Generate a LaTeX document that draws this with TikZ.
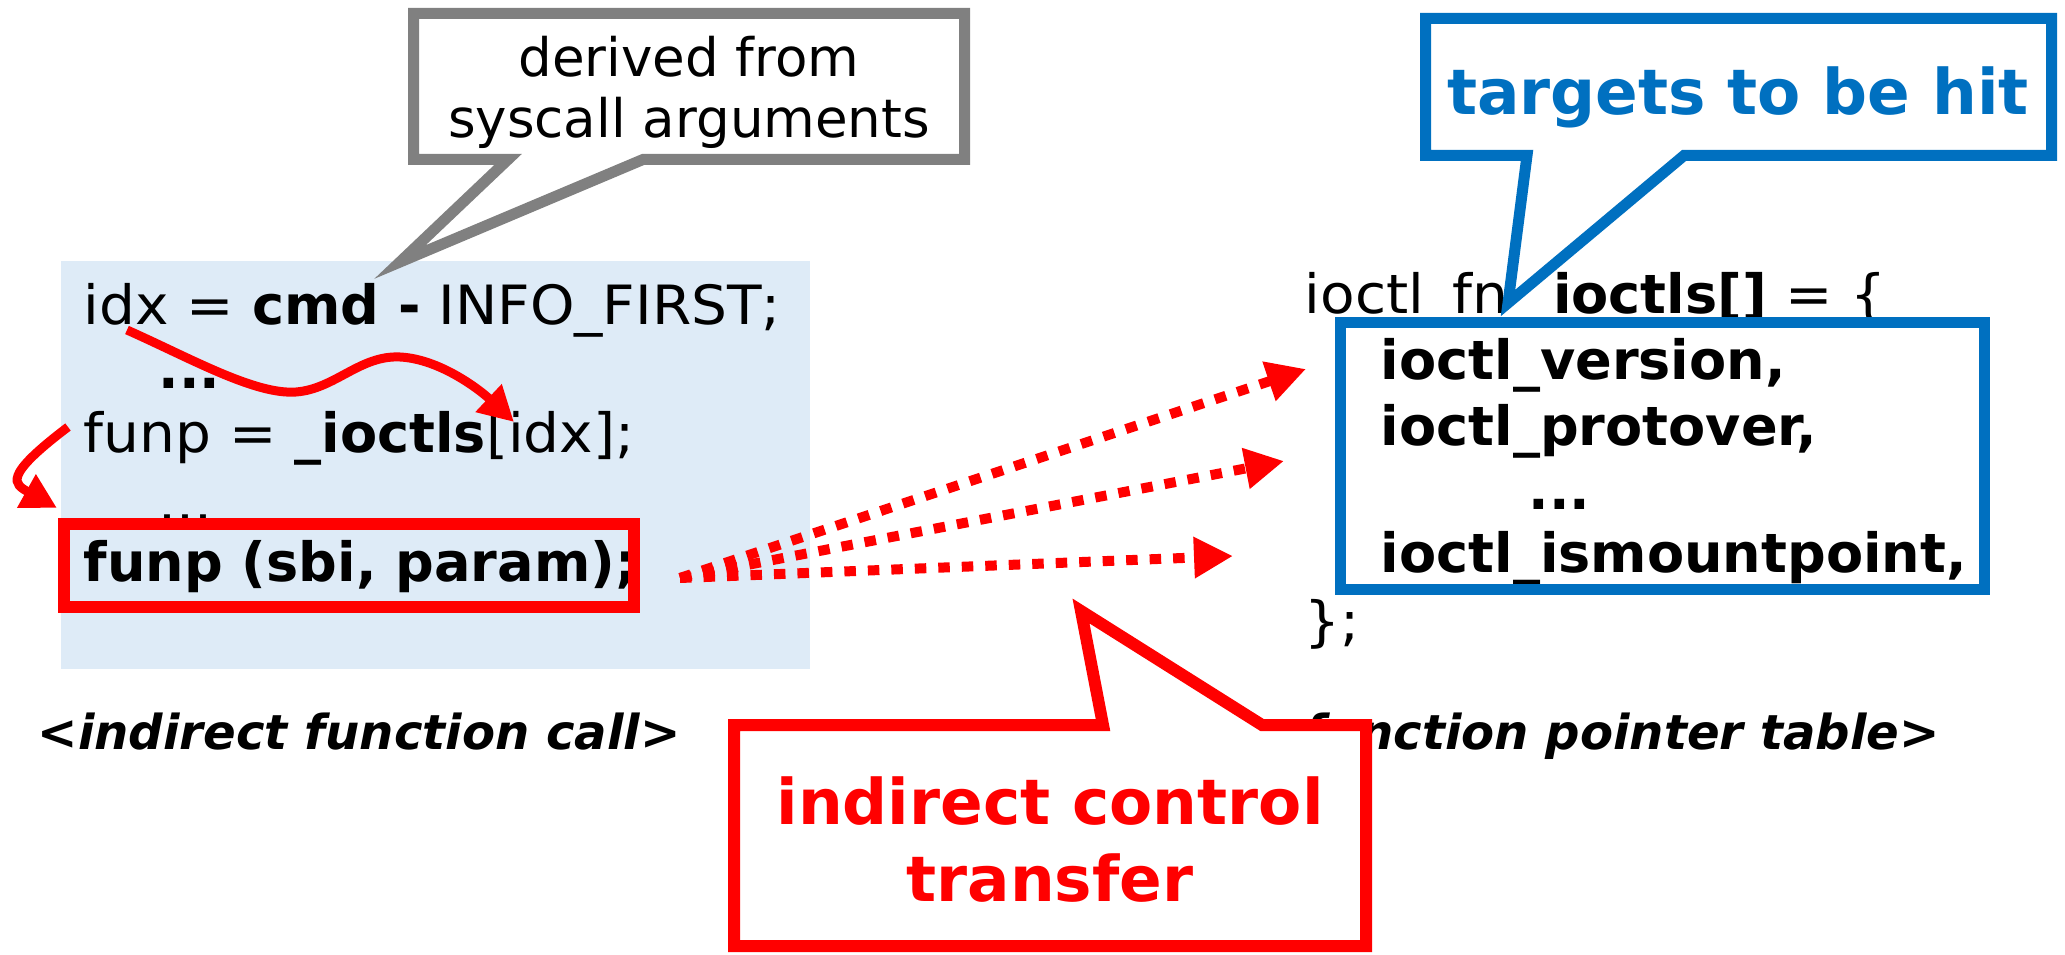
\documentclass[tikz,border=0pt]{standalone}
\usepackage{fontspec}
\setmainfont{DejaVu Sans}[BoldFont={DejaVu Sans Bold},ItalicFont={DejaVu Sans Oblique},BoldItalicFont={DejaVu Sans Bold Oblique}]
\newfontfamily\coderegular{DejaVu Sans}[FakeStretch=1.045]
\usetikzlibrary{arrows.meta}

\definecolor{codebg}{RGB}{222,235,247}
\definecolor{pblue}{RGB}{0,112,192}
\definecolor{pgray}{RGB}{128,128,128}

\newcommand\codesize{\fontsize{15.4pt}{18pt}\selectfont}
\newcommand\notesize{\fontsize{15.1pt}{18pt}\selectfont}
\newcommand\tagsize{\fontsize{13.7pt}{16pt}\selectfont}
\newcommand\callsize{\fontsize{17.9pt}{21pt}\selectfont}
% regular (wider) code text
\newcommand\rg[1]{{\coderegular #1}}

\begin{document}
\begin{tikzpicture}[x=0.1mm,y=-0.1mm,
  codeline/.style={anchor=base west, inner sep=0pt, font=\codesize},
  tagline/.style={anchor=base west, inner sep=0pt, font=\tagsize\bfseries\itshape},
  calltext/.style={anchor=base, inner sep=0pt},
  callout/.style={line width=1.1mm, line join=miter, fill=white},
  flow/.style={red, line width=0.9mm, -{Triangle[length=3.5mm,width=3.6mm]}},
  jump/.style={red, line width=1mm, dash pattern=on 1.15mm off 1.2mm, -{Triangle[length=3.9mm,width=3.9mm]}},
]
\useasboundingbox (0,0) rectangle (2065,955);
\fill[white] (0,0) rectangle (2065,955);

% code of the indirect call
\node[fill=codebg, inner sep=0pt, minimum width=74.9mm, minimum height=40.8mm] (bg) at (435.5,465) {};
\node[codeline] (l1) at (83,325) {\rg{idx = }\textbf{cmd -}\rg{ INFO\_FIRST;}};
\node[codeline] (l2) at (158,389) {\textbf{...}};
\node[codeline] (l3) at (83,453) {\rg{funp = }\textbf{\_ioctls}\rg{[idx];}};
\node[codeline] (l4) at (158,521) {\rg{...}};
\node[codeline] (l5) at (83,581) {\textbf{funp (sbi, param);}};
\node[draw=red, line width=1.2mm, inner sep=0pt, minimum width=57mm, minimum height=8.3mm] (callbox) at (349,565.5) {};

% function pointer table
\node[codeline] (r0) at (1304,314) {\rg{ioctl\_fn }\textbf{\_ioctls[]}\rg{ = \{}};
\node[codeline, font=\codesize\bfseries] (r1) at (1380,380) {ioctl\_version,};
\node[codeline, font=\codesize\bfseries] (r2) at (1380,445) {ioctl\_protover,};
\node[codeline, font=\codesize\bfseries] (r3) at (1528,509) {...};
\node[codeline, font=\codesize\bfseries] (r4) at (1380,572) {ioctl\_ismountpoint,};
\node[codeline] (r5) at (1304,640) {\rg{\};}};
\node[draw=pblue, line width=1.1mm, inner sep=0pt, minimum width=64.4mm, minimum height=26.7mm] (table) at (1662.5,456) {};

% data flow inside the code
\coordinate (idxsrc) at (127,330);
\coordinate (idxdst) at (514,422);
\draw[flow] (idxsrc) .. controls (190,358) and (255,395) .. (296,392)
  .. controls (335,389) and (360,355) .. (400,357)
  .. controls (440,359) and (480,390) .. (idxdst);
\coordinate (funpsrc) at (68,427);
\coordinate (funpdst) at (57,508);
\draw[flow] (funpsrc) .. controls (2,477) and (14,484) .. (funpdst);

% possible transfers to the table entries
\coordinate (jsrc) at (680,578);
\coordinate (t1) at (1306,369);
\coordinate (t2) at (1284,461);
\coordinate (t3) at (1233,556);
\draw[jump] (jsrc) -- (t1);
\draw[jump] (jsrc) -- (t2);
\draw[jump] (jsrc) -- (t3);

% captions
\node[tagline] (lcall) at (37,749) {\textless indirect function call\textgreater};
\node[tagline] (ltab) at (1263,749) {\textless function pointer table\textgreater};

% callouts
\draw[callout, draw=pgray] (413.5,13.5) -- (964.5,13.5) -- (964.5,159.5) -- (643,159.5)
  -- (400,262) -- (508,159.5) -- (413.5,159.5) -- cycle;
\node[calltext, font=\notesize] (g1) at (689,77) {derived from};
\node[calltext, font=\notesize] (g2) at (689,138) {syscall arguments};

\draw[callout, draw=pblue] (1425.5,18.5) -- (2051.5,18.5) -- (2051.5,155.5) -- (1684,155.5)
  -- (1508,303) -- (1527,155.5) -- (1425.5,155.5) -- cycle;
\node[calltext, font=\callsize\bfseries, text=pblue] (b1) at (1738,115) {targets to be hit};

\draw[callout, draw=red, line width=1.2mm] (734,725) -- (1103,725) -- (1081,611) -- (1262,725)
  -- (1366,725) -- (1366,946) -- (734,946) -- cycle;
\node[calltext, font=\callsize\bfseries, text=red] (c1) at (1050,824) {indirect control};
\node[calltext, font=\callsize\bfseries, text=red] (c2) at (1050,901) {transfer};
\end{tikzpicture}
\end{document}
